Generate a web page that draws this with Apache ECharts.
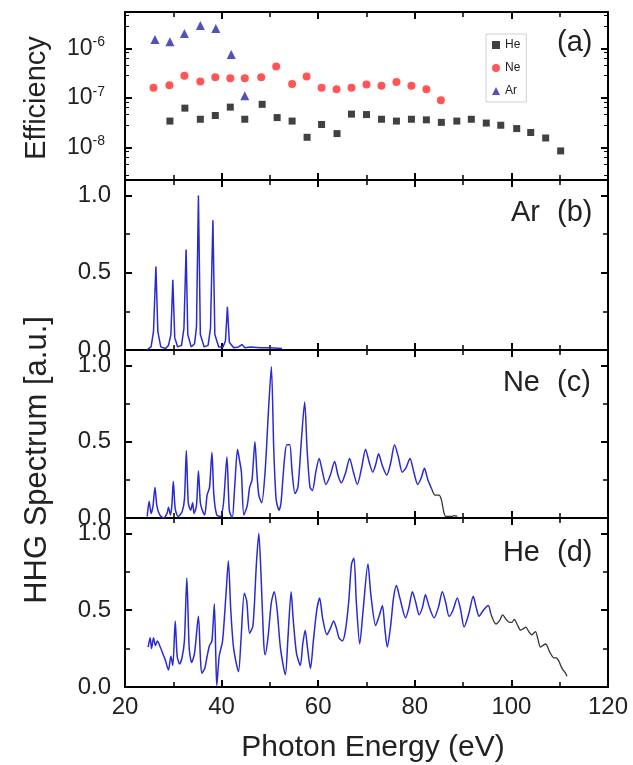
<!DOCTYPE html>
<html><head><meta charset="utf-8">
<script src="https://cdn.jsdelivr.net/npm/echarts@6/dist/echarts.min.js"></script>
<style>html,body{margin:0;padding:0;background:#fff}#c{width:633px;height:765px}</style>
</head><body><div id="c"></div>
<script>
// ---------- Panel (a): efficiency ----------
const heEnergy = [29.3,32.4,35.6,38.7,41.8,44.8,48.4,51.5,54.6,57.7,60.7,63.9,66.9,70.0,73.1,76.2,79.3,82.4,85.5,88.7,91.7,94.8,97.8,101.1,104.0,107.1,110.2];
const heEff    = [3.4e-8,6.2e-8,3.7e-8,4.4e-8,6.5e-8,3.7e-8,7.4e-8,4.0e-8,3.4e-8,1.6e-8,2.9e-8,1.9e-8,4.7e-8,4.6e-8,3.7e-8,3.4e-8,3.7e-8,3.6e-8,3.2e-8,3.4e-8,3.7e-8,3.1e-8,2.8e-8,2.4e-8,2.0e-8,1.55e-8,8.5e-9];
const neEnergy = [25.9,29.2,32.3,35.6,38.7,41.8,44.8,48.2,51.3,54.6,57.6,60.7,63.8,66.9,70.0,73.1,76.2,79.3,82.4,85.4];
const neEff    = [1.6e-7,1.8e-7,2.8e-7,2.15e-7,2.6e-7,2.5e-7,2.5e-7,2.6e-7,4.3e-7,1.9e-7,2.7e-7,1.6e-7,1.5e-7,1.6e-7,1.85e-7,1.75e-7,2.1e-7,1.75e-7,1.5e-7,8.9e-8];
const arEnergy = [26.2,29.3,32.3,35.6,38.8,42.0,44.8];
const arEff    = [1.5e-6,1.35e-6,2.0e-6,2.9e-6,2.5e-6,7.5e-7,1.1e-7];
const effTicks = [1e-8,1e-7,1e-6];

// ---------- Panels (b)-(d): HHG spectra [energy, intensity] ----------
const arSpectrum = [[24.5,0.0],[25.4,0.02],[25.9,0.12],[26.4,0.54],[26.8,0.12],[27.4,0.02],[28.4,0.01],[29.0,0.03],[29.5,0.1],[29.9,0.455],[30.3,0.08],[30.9,0.02],[31.7,0.03],[32.2,0.14],[32.65,0.65],[33.0,0.1],[33.7,0.02],[34.4,0.04],[34.8,0.15],[35.2,1.0],[35.6,0.1],[36.4,0.02],[37.2,0.03],[37.7,0.14],[38.2,0.84],[38.6,0.1],[39.4,0.02],[40.3,0.02],[40.8,0.06],[41.2,0.28],[41.6,0.05],[42.5,0.015],[43.5,0.02],[44.2,0.035],[44.8,0.015],[46.0,0.02],[48.0,0.015],[50.0,0.015],[52.5,0.01]];
const neSpectrum = [[24.6,0.01],[25.0,0.11],[25.4,0.03],[25.8,0.08],[26.2,0.20],[26.6,0.08],[27.2,0.02],[28.0,0.0],[28.7,0.03],[29.0,0.07],[29.4,0.02],[29.7,0.08],[30.0,0.24],[30.4,0.06],[31.0,0.01],[31.8,0.04],[32.3,0.12],[32.7,0.44],[33.1,0.1],[33.6,0.05],[34.0,0.1],[34.3,0.03],[34.8,0.08],[35.2,0.31],[35.6,0.1],[36.0,0.05],[36.5,0.02],[37.0,0.15],[37.5,0.2],[38.0,0.43],[38.4,0.15],[39.0,0.02],[39.8,0.01],[40.4,0.1],[41.1,0.40],[41.6,0.05],[42.2,0.0],[42.7,0.2],[43.3,0.45],[43.7,0.38],[44.1,0.3],[44.6,0.02],[45.3,0.08],[45.8,0.2],[46.3,0.25],[46.9,0.50],[47.3,0.3],[47.7,0.15],[48.3,0.1],[49.0,0.3],[49.7,0.7],[50.3,0.99],[50.8,0.45],[51.3,0.12],[51.9,0.05],[52.3,0.1],[53.0,0.38],[53.5,0.48],[54.1,0.48],[54.6,0.3],[55.2,0.16],[55.8,0.2],[56.5,0.5],[57.2,0.76],[57.7,0.45],[58.3,0.2],[58.8,0.18],[59.5,0.3],[60.2,0.39],[60.9,0.3],[61.6,0.22],[62.5,0.28],[63.4,0.37],[64.1,0.28],[64.8,0.23],[65.7,0.3],[66.5,0.39],[67.3,0.3],[68.1,0.22],[69.0,0.33],[69.8,0.45],[70.6,0.36],[71.3,0.30],[71.9,0.35],[72.5,0.42],[73.3,0.34],[74.2,0.28],[75.0,0.36],[75.8,0.48],[76.6,0.4],[77.4,0.30],[78.2,0.33],[79.0,0.39],[79.8,0.3],[80.6,0.22],[81.3,0.26],[82.0,0.325],[82.7,0.25],[83.5,0.19]];
const neTail = [[83.5,0.19],[84.2,0.15],[85.0,0.15],[85.5,0.12],[86.0,0.04],[86.4,0.01],[87.5,0.01],[88.2,0.015],[88.8,0.01]];
const heSpectrum = [[24.8,0.26],[25.2,0.32],[25.5,0.25],[25.9,0.32],[26.3,0.27],[26.7,0.30],[27.3,0.26],[27.8,0.22],[28.3,0.18],[29.0,0.11],[29.5,0.2],[29.9,0.14],[30.4,0.43],[30.8,0.2],[31.3,0.15],[31.8,0.19],[32.3,0.3],[32.8,0.71],[33.3,0.25],[33.8,0.16],[34.4,0.22],[35.2,0.46],[35.6,0.2],[35.9,0.09],[36.5,0.12],[37.0,0.2],[37.5,0.27],[38.0,0.3],[38.5,0.54],[38.8,0.2],[39.0,0.01],[39.5,0.2],[40.2,0.3],[40.9,0.6],[41.4,0.82],[41.9,0.5],[42.5,0.25],[43.5,0.10],[44.0,0.3],[44.7,0.61],[45.2,0.56],[45.8,0.35],[46.5,0.4],[47.2,0.8],[47.7,1.0],[48.2,0.7],[48.7,0.3],[49.0,0.21],[49.6,0.32],[50.3,0.55],[50.9,0.62],[51.5,0.5],[52.2,0.25],[53.2,0.08],[53.7,0.3],[54.4,0.62],[54.8,0.45],[55.5,0.22],[56.3,0.14],[56.8,0.28],[57.3,0.37],[57.8,0.25],[58.4,0.12],[59.0,0.3],[59.7,0.5],[60.3,0.58],[60.9,0.45],[61.8,0.34],[62.5,0.38],[63.2,0.43],[63.8,0.38],[64.3,0.32],[65.0,0.3],[65.6,0.36],[66.3,0.55],[66.9,0.8],[67.4,0.84],[67.9,0.55],[68.6,0.28],[69.3,0.5],[70.3,0.80],[70.9,0.6],[71.9,0.40],[72.6,0.46],[73.3,0.53],[73.8,0.38],[74.3,0.26],[75.0,0.4],[75.6,0.58],[76.2,0.66],[76.9,0.58],[78.1,0.45],[78.8,0.52],[79.5,0.62],[80.2,0.55],[80.9,0.47],[81.6,0.52],[82.2,0.60],[83.0,0.52],[84.0,0.45],[84.9,0.52],[85.7,0.62],[86.4,0.55],[87.1,0.46],[87.9,0.5],[88.8,0.58],[89.5,0.5],[90.2,0.39],[91.2,0.48],[92.1,0.59],[92.7,0.52],[93.3,0.46],[94.2,0.5],[95.2,0.53],[95.7,0.48]];
const heTail = [[95.7,0.48],[96.8,0.41],[97.5,0.43],[98.2,0.47],[98.9,0.44],[99.6,0.42],[100.1,0.42],[100.6,0.44],[101.3,0.40],[101.9,0.37],[102.5,0.38],[103.0,0.39],[103.6,0.36],[104.2,0.34],[104.6,0.35],[105.0,0.36],[105.5,0.31],[106.0,0.26],[106.5,0.27],[107.1,0.28],[107.9,0.23],[108.8,0.19],[109.3,0.19],[109.8,0.17],[110.5,0.12],[111.2,0.09],[111.5,0.07]];
const specTicks = [0.0,0.5,1.0];
const panelLabels = [['(a)',''],['Ar','(b)'],['Ne','(c)'],['He','(d)']];

const zip = (a,b) => a.map((v,i)=>[v,b[i]]);
const chart = echarts.init(document.getElementById('c'), null, {renderer:'canvas'});
const FONT = 'Liberation Sans, Arial, sans-serif';
const BLUE = '#2a2ad2';
const grids = [
  {left:125, right:25, top:12, height:168},
  {left:125, right:25, top:180, height:170},
  {left:125, right:25, top:350, height:168},
  {left:125, right:25, top:518, height:169}
];
const xAxis = [], yAxis = [];
grids.forEach((g,i)=>{
  ['bottom','top'].forEach(pos=>{
    xAxis.push({gridIndex:i, type:'value', min:20, max:120, interval:20, position:pos,
      axisLine:{show:true, onZero:false, lineStyle:{color:'#000', width:2}},
      axisTick:{show:true, inside:true, length:7, lineStyle:{color:'#000', width:2}},
      minorTick:{show:true, splitNumber:2, length:5, lineStyle:{color:'#000', width:1.5}},
      splitLine:{show:false},
      axisLabel:{show: (i===3 && pos==='bottom'), fontSize:24, color:'#222', fontFamily:FONT, margin:8}
    });
  });
  ['left','right'].forEach(pos=>{
    if (i===0) {
      yAxis.push({gridIndex:i, type:'log', logBase:10, min:2.2e-9, max:5.4e-6, position:pos,
        axisLine:{show:true, onZero:false, lineStyle:{color:'#000', width:2}},
        axisTick:{show:true, inside:true, length:7, lineStyle:{color:'#000', width:2}},
        minorTick:{show:true, splitNumber:5, length:4, lineStyle:{color:'#000', width:1}},
        splitLine:{show:false},
        axisLabel:{show: pos==='left', margin:20, fontFamily:FONT,
          formatter:(v)=>{
            const hit = effTicks.find(t=>Math.abs(Math.log10(v)-Math.log10(t))<1e-6);
            return hit ? '{b|10}{s|'+Math.round(Math.log10(hit))+'}' : '';
          },
          rich:{b:{fontSize:23, color:'#222', fontFamily:FONT}, s:{fontSize:14, color:'#222', fontFamily:FONT, padding:[0,0,12,0]}}
        }
      });
    } else {
      yAxis.push({gridIndex:i, type:'value', min:0, max:1.1, interval:0.5, position:pos,
        axisLine:{show:true, onZero:false, lineStyle:{color:'#000', width:2}},
        axisTick:{show:true, inside:true, length:7, lineStyle:{color:'#000', width:2}},
        minorTick:{show:true, splitNumber:2, length:5, lineStyle:{color:'#000', width:1.5}},
        splitLine:{show:false},
        axisLabel:{show: pos==='left', fontSize:24, color:'#222', fontFamily:FONT, margin:14,
          formatter:(v)=>{ const hit = specTicks.find(t=>Math.abs(t-v)<1e-6); return hit!==undefined ? hit.toFixed(1) : ''; }
        }
      });
    }
  });
});

const lineBase = {type:'line', showSymbol:false, symbol:'none', smooth:0.25, z:3};
const series = [
  {name:'He', type:'scatter', xAxisIndex:0, yAxisIndex:0, data:zip(heEnergy,heEff), symbol:'rect', symbolSize:7, itemStyle:{color:'#111'}},
  {name:'Ne', type:'scatter', xAxisIndex:0, yAxisIndex:0, data:zip(neEnergy,neEff), symbol:'circle', symbolSize:8, itemStyle:{color:'#ff2a2a'}},
  {name:'Ar', type:'scatter', xAxisIndex:0, yAxisIndex:0, data:zip(arEnergy,arEff), symbol:'triangle', symbolSize:9, itemStyle:{color:'#2626a8'}},
  Object.assign({}, lineBase, {name:'Ar spectrum', xAxisIndex:2, yAxisIndex:2, data:arSpectrum, smooth:false, lineStyle:{width:1.5, color:BLUE}}),
  Object.assign({}, lineBase, {name:'Ne spectrum', xAxisIndex:4, yAxisIndex:4, data:neSpectrum, lineStyle:{width:1.5, color:BLUE}}),
  Object.assign({}, lineBase, {name:'Ne tail', xAxisIndex:4, yAxisIndex:4, data:neTail, lineStyle:{width:1.3, color:'#333'}}),
  Object.assign({}, lineBase, {name:'He spectrum', xAxisIndex:6, yAxisIndex:6, data:heSpectrum, lineStyle:{width:1.5, color:BLUE}}),
  Object.assign({}, lineBase, {name:'He tail', xAxisIndex:6, yAxisIndex:6, data:heTail, lineStyle:{width:1.3, color:'#333'}})
];

const labelY = [43, 213, 383, 553];
const graphic = [];
panelLabels.forEach((p,i)=>{
  graphic.push({type:'text', x:557, y:labelY[i], style:{text:p[0]==='(a)'?'(a)':p[1], fontSize:29, fill:'#222', fontFamily:FONT, verticalAlign:'middle', align:'left'}});
  if (p[0] !== '(a)') graphic.push({type:'text', x:540, y:labelY[i], style:{text:p[0], fontSize:29, fill:'#222', fontFamily:FONT, verticalAlign:'middle', align:'right'}});
});
graphic.push({type:'text', x:373, y:748, style:{text:'Photon Energy (eV)', fontSize:30, fill:'#222', fontFamily:FONT, align:'center', verticalAlign:'middle'}});
graphic.push({type:'text', x:37, y:98, rotation:Math.PI/2, style:{text:'Efficiency', fontSize:29, fill:'#222', fontFamily:FONT, align:'center', verticalAlign:'middle'}});
graphic.push({type:'text', x:37, y:460, rotation:Math.PI/2, style:{text:'HHG Spectrum [a.u.]', fontSize:31, fill:'#222', fontFamily:FONT, align:'center', verticalAlign:'middle'}});

chart.setOption({
  animation:false,
  backgroundColor:'#fff',
  grid: grids,
  xAxis, yAxis, series, graphic,
  legend:{
    data:[{name:'He', icon:'rect'},{name:'Ne', icon:'circle'},{name:'Ar', icon:'triangle'}],
    orient:'vertical', left:486, top:34, itemWidth:8, itemHeight:8, itemGap:11,
    textStyle:{fontSize:12, color:'#222', fontFamily:FONT},
    borderColor:'#d0d0d0', borderWidth:1, padding:[5,6,5,6], selectedMode:false
  }
});
</script></body></html>
